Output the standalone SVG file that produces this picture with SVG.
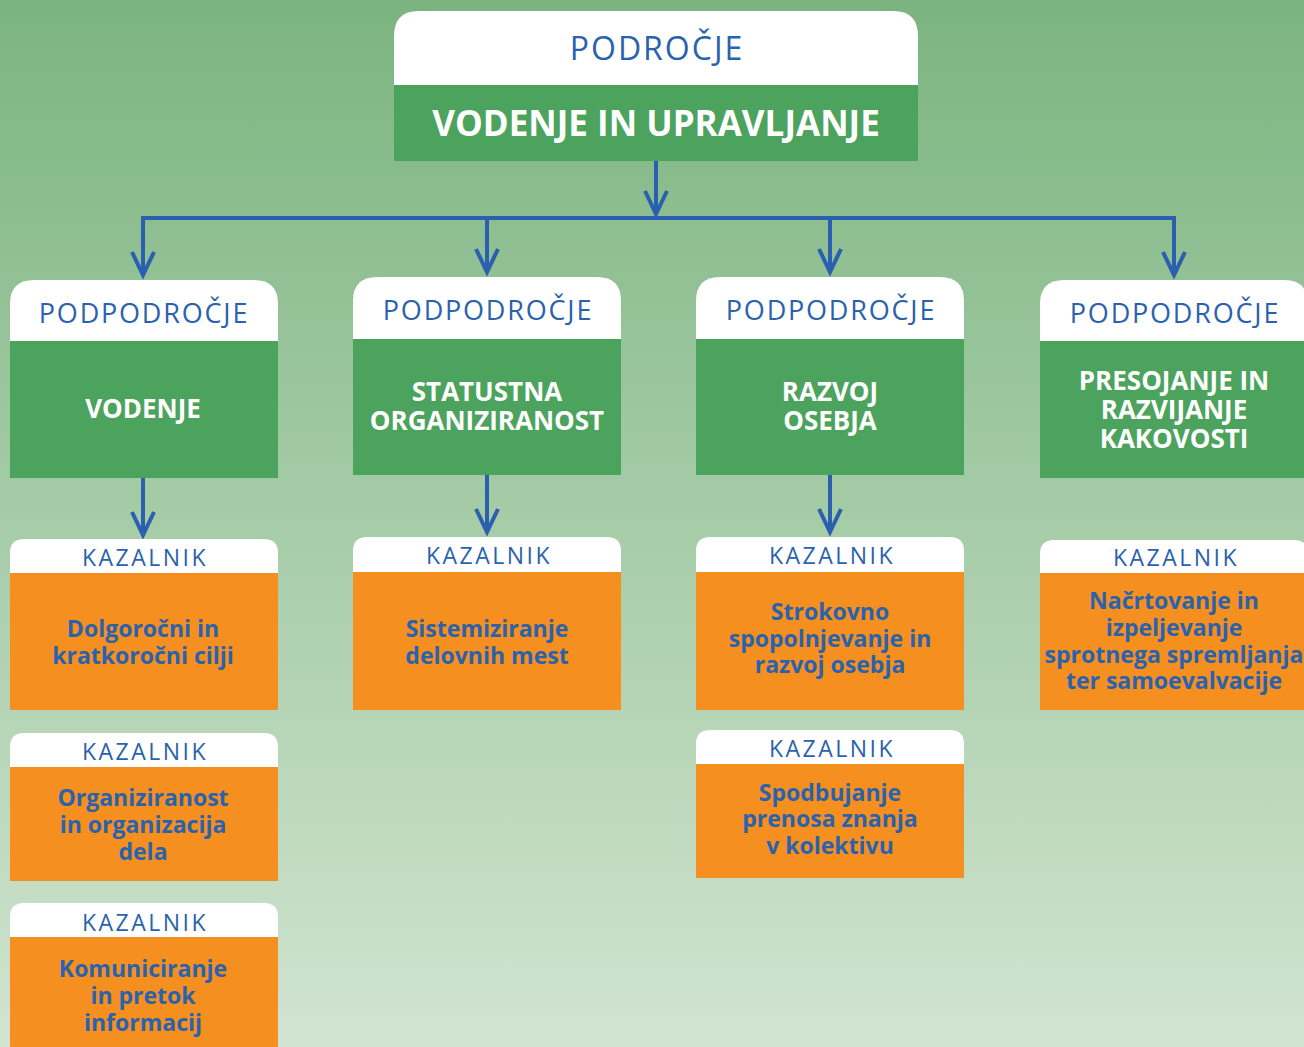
<svg xmlns="http://www.w3.org/2000/svg" width="1304" height="1047" viewBox="0 0 1304 1047">
<defs>
<linearGradient id="bg" x1="0" y1="0" x2="0" y2="1">
<stop offset="0" stop-color="#7bb47f"/>
<stop offset="1" stop-color="#d1e4d0"/>
</linearGradient>
<style>
.w{fill:#ffffff}
.g{fill:#4ca35e}
.o{fill:#f58f1f}
.lbl{font-family:"Open Sans","Liberation Sans",sans-serif;fill:#2a62ad;text-anchor:middle}
.hd{font-size:32px;letter-spacing:2px}
.sh{font-size:27px;letter-spacing:1.8px}
.kz{font-size:23px;letter-spacing:2.5px}
.tw{font-family:"Open Sans","Liberation Sans",sans-serif;fill:#ffffff;text-anchor:middle;font-weight:700}
.tb{font-family:"Open Sans","Liberation Sans",sans-serif;fill:#2a62ad;text-anchor:middle;font-weight:700;font-size:23px}
.ln{stroke:#2b5fb0;stroke-width:4;fill:none;stroke-linecap:butt}
.ah{stroke:#2b5fb0;stroke-width:4;fill:none;stroke-linejoin:miter}
</style>
</defs>
<rect x="0" y="0" width="1304" height="1047" fill="url(#bg)"/>

<g id="connectors">
<path class="ln" d="M656 160V214"/>
<path class="ah" d="M645 191L656 214L667 191"/>
<path class="ln" d="M141 218H1176"/>
<path class="ln" d="M143 218V275"/>
<path class="ah" d="M132 252L143 275L154 252"/>
<path class="ln" d="M487 218V272"/>
<path class="ah" d="M476 249L487 272L498 249"/>
<path class="ln" d="M830 218V272"/>
<path class="ah" d="M819 249L830 272L841 249"/>
<path class="ln" d="M1174 218V275"/>
<path class="ah" d="M1163 252L1174 275L1185 252"/>
<path class="ln" d="M143 478V535"/>
<path class="ah" d="M132 512L143 535L154 512"/>
<path class="ln" d="M487 475V532"/>
<path class="ah" d="M476 509L487 532L498 509"/>
<path class="ln" d="M830 475V532"/>
<path class="ah" d="M819 509L830 532L841 509"/>
</g>

<g id="podrocje">
<path class="w" d="M394 85V36Q394 11 419 11H893Q918 11 918 36V85Z"/>
<rect class="g" x="394" y="85" width="524" height="76"/>
<text class="lbl hd" x="657" y="60">PODROČJE</text>
<text class="tw" x="656" y="136" font-size="35">VODENJE IN UPRAVLJANJE</text>
</g>

<g id="sub-vodenje">
<path class="w" d="M10 341V304Q10 280 34 280H254Q278 280 278 304V341Z"/>
<rect class="g" x="10" y="341" width="268" height="137"/>
<text class="lbl sh" x="144" y="323">PODPODROČJE</text>
<text class="tw" x="143" y="418" font-size="26">VODENJE</text>
</g>

<g id="sub-statustna">
<path class="w" d="M353 339V301Q353 277 377 277H597Q621 277 621 301V339Z"/>
<rect class="g" x="353" y="339" width="268" height="136"/>
<text class="lbl sh" x="488" y="320">PODPODROČJE</text>
<text class="tw" x="487" y="401" font-size="26">STATUSTNA</text>
<text class="tw" x="487" y="430" font-size="26">ORGANIZIRANOST</text>
</g>

<g id="sub-razvoj">
<path class="w" d="M696 339V301Q696 277 720 277H940Q964 277 964 301V339Z"/>
<rect class="g" x="696" y="339" width="268" height="136"/>
<text class="lbl sh" x="831" y="320">PODPODROČJE</text>
<text class="tw" x="830" y="401" font-size="26">RAZVOJ</text>
<text class="tw" x="830" y="430" font-size="26">OSEBJA</text>
</g>

<g id="sub-presojanje">
<path class="w" d="M1040 341V304Q1040 280 1064 280H1284Q1308 280 1308 304V341Z"/>
<rect class="g" x="1040" y="341" width="268" height="137"/>
<text class="lbl sh" x="1175" y="323">PODPODROČJE</text>
<text class="tw" x="1174" y="390" font-size="26">PRESOJANJE IN</text>
<text class="tw" x="1174" y="419" font-size="26">RAZVIJANJE</text>
<text class="tw" x="1174" y="448" font-size="26">KAKOVOSTI</text>
</g>

<g id="kaz-1-1">
<path class="w" d="M10 573V553Q10 539 24 539H264Q278 539 278 553V573Z"/>
<rect class="o" x="10" y="573" width="268" height="137"/>
<text class="lbl kz" x="145" y="566">KAZALNIK</text>
<text class="tb" x="143" y="637">Dolgoročni in</text>
<text class="tb" x="143" y="664">kratkoročni cilji</text>
</g>

<g id="kaz-1-2">
<path class="w" d="M10 767V747Q10 733 24 733H264Q278 733 278 747V767Z"/>
<rect class="o" x="10" y="767" width="268" height="114"/>
<text class="lbl kz" x="145" y="760">KAZALNIK</text>
<text class="tb" x="143" y="806">Organiziranost</text>
<text class="tb" x="143" y="833">in organizacija</text>
<text class="tb" x="143" y="860">dela</text>
</g>

<g id="kaz-1-3">
<path class="w" d="M10 937V917Q10 903 24 903H264Q278 903 278 917V937Z"/>
<rect class="o" x="10" y="937" width="268" height="110"/>
<text class="lbl kz" x="145" y="931">KAZALNIK</text>
<text class="tb" x="143" y="977">Komuniciranje</text>
<text class="tb" x="143" y="1004">in pretok</text>
<text class="tb" x="143" y="1031">informacij</text>
</g>

<g id="kaz-2-1">
<path class="w" d="M353 572V551Q353 537 367 537H607Q621 537 621 551V572Z"/>
<rect class="o" x="353" y="572" width="268" height="138"/>
<text class="lbl kz" x="489" y="564">KAZALNIK</text>
<text class="tb" x="487" y="637">Sistemiziranje</text>
<text class="tb" x="487" y="664">delovnih mest</text>
</g>

<g id="kaz-3-1">
<path class="w" d="M696 572V551Q696 537 710 537H950Q964 537 964 551V572Z"/>
<rect class="o" x="696" y="572" width="268" height="138"/>
<text class="lbl kz" x="832" y="564">KAZALNIK</text>
<text class="tb" x="830" y="620">Strokovno</text>
<text class="tb" x="830" y="647">spopolnjevanje in</text>
<text class="tb" x="830" y="673">razvoj osebja</text>
</g>

<g id="kaz-3-2">
<path class="w" d="M696 764V744Q696 730 710 730H950Q964 730 964 744V764Z"/>
<rect class="o" x="696" y="764" width="268" height="114"/>
<text class="lbl kz" x="832" y="757">KAZALNIK</text>
<text class="tb" x="830" y="801">Spodbujanje</text>
<text class="tb" x="830" y="827">prenosa znanja</text>
<text class="tb" x="830" y="854">v kolektivu</text>
</g>

<g id="kaz-4-1">
<path class="w" d="M1040 573V554Q1040 540 1054 540H1294Q1308 540 1308 554V573Z"/>
<rect class="o" x="1040" y="573" width="268" height="137"/>
<text class="lbl kz" x="1176" y="566">KAZALNIK</text>
<text class="tb" x="1174" y="609">Načrtovanje in</text>
<text class="tb" x="1174" y="636">izpeljevanje</text>
<text class="tb" x="1174" y="663">sprotnega spremljanja</text>
<text class="tb" x="1174" y="689">ter samoevalvacije</text>
</g>
</svg>
